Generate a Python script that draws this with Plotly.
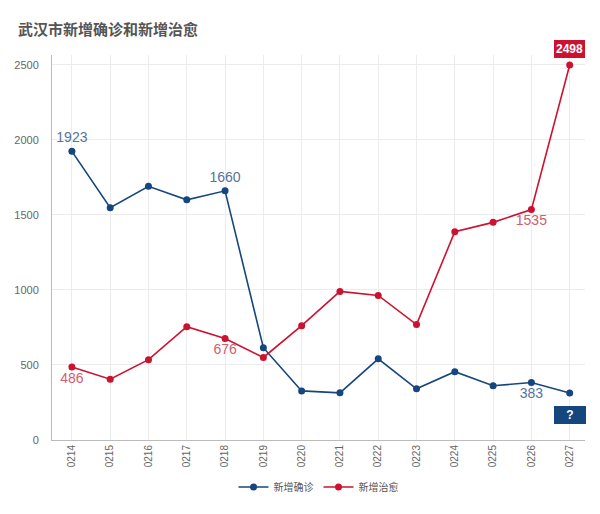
import plotly.graph_objects as go

dates = ["0214", "0215", "0216", "0217", "0218", "0219", "0220",
         "0221", "0222", "0223", "0224", "0225", "0226", "0227"]
confirmed = [1923, 1548, 1690, 1600, 1660, 615, 327, 314, 541, 341, 455, 361, 383, 313]
recovered = [486, 405, 535, 755, 676, 550, 762, 990, 963, 769, 1388, 1450, 1535, 2498]
series_names = ["新增确诊", "新增治愈"]
title = "武汉市新增确诊和新增治愈"
y_ticks = [0, 500, 1000, 1500, 2000, 2500]

# which points carry a plain value label
conf_label_idx = {0: "top", 4: "top", 12: "bottom"}
rec_label_idx = {0: "bottom", 4: "bottom", 12: "bottom"}

BLUE = "#15467d"
RED = "#cc1230"
BLUE_TXT = "#55739c"
RED_TXT = "#d0606d"
FONT = "Liberation Sans, Arial, Noto Sans CJK SC, sans-serif"
TFONT = "Noto Sans CJK SC, sans-serif"

x = list(range(len(dates)))

def labels(vals, idx):
    return [str(v) if i in idx else "" for i, v in enumerate(vals)]

def positions(idx, n):
    return [("top center" if idx.get(i) == "top" else "bottom center") for i in range(n)]

fig = go.Figure()
fig.add_trace(go.Scatter(
    x=x, y=confirmed, name=series_names[0], mode="lines+markers+text",
    line=dict(color=BLUE, width=1.6), marker=dict(color=BLUE, size=7),
    text=labels(confirmed, conf_label_idx),
    textposition=positions(conf_label_idx, len(x)),
    textfont=dict(color=BLUE_TXT, size=14, family=FONT),
    cliponaxis=False,
))
fig.add_trace(go.Scatter(
    x=x, y=recovered, name=series_names[1], mode="lines+markers+text",
    line=dict(color=RED, width=1.6), marker=dict(color=RED, size=7),
    text=labels(recovered, rec_label_idx),
    textposition=positions(rec_label_idx, len(x)),
    textfont=dict(color=RED_TXT, size=14, family=FONT),
    cliponaxis=False,
))

# boxed callouts on the last points
last = len(x) - 1
fig.add_annotation(
    x=x[last], y=recovered[last], text="<b>%d</b>" % recovered[last],
    showarrow=False, yshift=16, bgcolor=RED, bordercolor=RED, borderpad=1,
    font=dict(color="white", size=12, family=FONT),
)
fig.add_annotation(
    x=x[last], y=confirmed[last], text="<b>?</b>",
    showarrow=False, yshift=-22, bgcolor=BLUE, bordercolor=BLUE, borderpad=1,
    width=28, font=dict(color="white", size=12, family=FONT),
)

fig.update_layout(
    width=600, height=514,
    margin=dict(l=52, r=15, t=55, b=74),
    paper_bgcolor="white", plot_bgcolor="white",
    title=dict(text="<b>%s</b>" % title, x=18 / 600, xanchor="left",
               y=1 - 30 / 514, yanchor="middle", yref="container",
               font=dict(size=15, color="#555555", family=TFONT)),
    font=dict(family=FONT, color="#666666"),
    showlegend=True,
    legend=dict(orientation="h", x=0.5, xanchor="center", y=-0.122, yanchor="middle",
                font=dict(size=10, color="#555555", family=TFONT),
                itemwidth=30, tracegroupgap=0),
    xaxis=dict(
        range=[-0.52, 13.4], tickmode="array", tickvals=x, ticktext=dates,
        tickangle=-90, tickfont=dict(size=10, color="#666666"),
        showgrid=True, gridcolor="#ececec", gridwidth=1,
        showline=True, linecolor="#bbbbbb", linewidth=1, ticks="", zeroline=False,
    ),
    yaxis=dict(
        range=[0, 2565], tickvals=y_ticks, tickfont=dict(size=11, color="#666666"),
        showgrid=True, gridcolor="#ececec", gridwidth=1,
        showline=True, linecolor="#bbbbbb", linewidth=1, ticks="", zeroline=False,
        ticklabelstandoff=10,
    ),
)

fig.write_html("out.html")
